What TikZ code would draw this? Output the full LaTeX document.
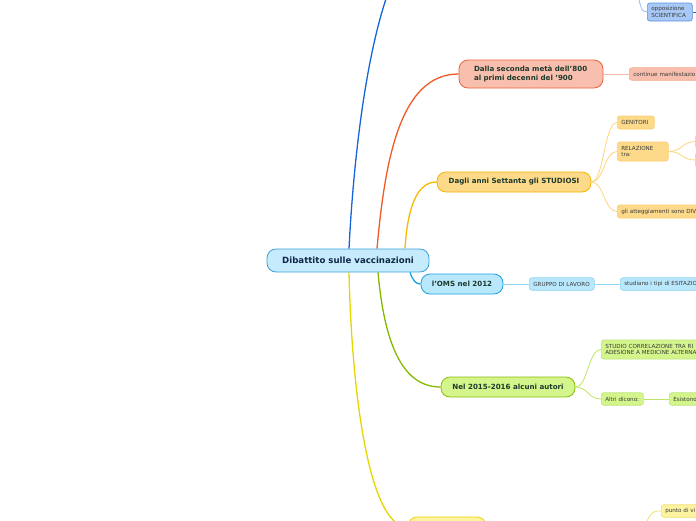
\documentclass[tikz,border=0pt]{standalone}
\usepackage{fontspec}
\setmainfont{DejaVu Sans}
\definecolor{rootf}{HTML}{C6EBFC}
\definecolor{rootb}{HTML}{3AA0D8}
\definecolor{roott}{HTML}{102848}
\definecolor{topt}{HTML}{1E3A2C}
\definecolor{subt}{HTML}{3A3A3A}
\definecolor{blueL}{HTML}{1565D8}
\definecolor{blueF}{HTML}{A8C8F5}
\definecolor{blueB}{HTML}{5A90E0}
\definecolor{oraL}{HTML}{F05A28}
\definecolor{oraF}{HTML}{F9BFAE}
\definecolor{oraB}{HTML}{E8643C}
\definecolor{oraS}{HTML}{F7A890}
\definecolor{goldL}{HTML}{F8B800}
\definecolor{goldF}{HTML}{FDD98A}
\definecolor{goldB}{HTML}{F5B400}
\definecolor{goldS}{HTML}{FCD070}
\definecolor{cyanL}{HTML}{19A3DF}
\definecolor{cyanF}{HTML}{B9E7FB}
\definecolor{cyanS}{HTML}{8FD5F5}
\definecolor{grnL}{HTML}{86B800}
\definecolor{grnF}{HTML}{D3F58B}
\definecolor{grnB}{HTML}{8CBC0A}
\definecolor{grnS}{HTML}{BEE47A}
\definecolor{yelL}{HTML}{E6D600}
\definecolor{yelF}{HTML}{FDF3A0}
\definecolor{yelS}{HTML}{F0E070}
\tikzset{
  rootbox/.style={draw=rootb, fill=rootf, line width=0.8, rounded corners=9,
    minimum width=162, minimum height=23, inner sep=0,
    font=\bfseries\fontsize{8.6}{10}\selectfont, text=roott},
  topicbox/.style={rounded corners=9, line width=0.8, minimum height=20, inner sep=0,
    font=\bfseries\fontsize{7.1}{8.4}\selectfont, text=topt},
  subbox/.style={rounded corners=2.5, line width=0.6, minimum height=12.5,
    inner xsep=4, inner ysep=0, anchor=west, align=left,
    font=\fontsize{5.6}{6.8}\selectfont, text=subt},
  branch/.style={line width=1.3},
  twig/.style={line width=0.8},
}
\begin{document}
\begin{tikzpicture}[x=1pt,y=-1pt]
\useasboundingbox (0,0) rectangle (696,520);
\clip (0,0) rectangle (696,520);

% root
\node[rootbox] (root) at (348,260.5) {Dibattito sulle vaccinazioni};

% level 1 topics
\coordinate (bluetop) at (393,-20);
\node[topicbox, draw=oraB, fill=oraF, minimum width=144, minimum height=28,
  text width=114, align=left, inner xsep=15] (ora) at (531,74)
  {Dalla seconda metà dell'800\\al primi decenni del '900};
\node[topicbox, draw=goldB, fill=goldF, minimum width=154] (gold) at (514,182)
  {Dagli anni Settanta gli STUDIOSI};
\node[topicbox, draw=cyanL, fill=cyanF, minimum width=82] (oms) at (462,284)
  {l'OMS nel 2012};
\node[topicbox, draw=grnB, fill=grnF, minimum width=134] (grn) at (508,387)
  {Nel 2015-2016 alcuni autori};
\node[topicbox, draw=yelL, fill=yelF, minimum width=78] (yel) at (447,527) {};

% main branches
\draw[branch, blueL] ([xshift=1pt]root.north) .. controls (354,150) and (368,40) .. (bluetop);
\draw[branch, oraL] ([xshift=29pt]root.north) .. controls (385,160) and (400,74) .. (ora.west);
\draw[branch, goldL] ([xshift=57pt]root.north) .. controls (408,200) and (420,182) .. (gold.west);
\draw[branch, cyanL] ([xshift=62pt]root.south) .. controls (413,281) and (416,284) .. (oms.west);
\draw[branch, grnL] ([xshift=30pt]root.south) .. controls (385,350) and (405,387) .. (grn.west);
\draw[branch, yelL] ([xshift=1pt]root.south) .. controls (352,400) and (370,527) .. (yel.west);

% blue sub
\node[subbox, draw=blueB, fill=blueF, text width=37, minimum height=18] (opp) at (647,12)
  {opposizione\\SCIENTIFICA};
\coordinate (oppin) at (636,-20);
\coordinate (oppout) at (700,12);
\draw[twig, blueF!80!blueB] (oppin) .. controls (640,8) and (641,12) .. (opp.west);
\draw[twig, blueL] (opp.east) -- (oppout);

% orange sub
\node[subbox, draw=oraS, fill=oraF, text width=100] (cont) at (629,74) {continue manifestazio};
\draw[twig, oraS!80] (ora.east) -- (cont.west);

% gold subs
\node[subbox, draw=goldS, fill=goldF, text width=29, minimum height=13] (gen) at (617,122.5) {GENITORI};
\node[subbox, draw=goldS, fill=goldF, text width=43, minimum height=19] (rel) at (617,151.5) {RELAZIONE\\tra:};
\node[subbox, draw=goldS, fill=goldF, text width=100, minimum height=13] (att) at (617,211.5) {gli atteggiamenti sono DIV};
\node[subbox, draw=goldS, fill=goldF, text width=32, minimum height=13] (rel1) at (695,141.5) {};
\node[subbox, draw=goldS, fill=goldF, text width=32, minimum height=14] (rel2) at (695,160) {};
\draw[twig, goldF!90!goldB] (gold.east) .. controls (604,182) and (604,122.5) .. (gen.west);
\draw[twig, goldF!90!goldB] (gold.east) .. controls (604,182) and (604,151.5) .. (rel.west);
\draw[twig, goldF!90!goldB] (gold.east) .. controls (604,182) and (604,211.5) .. (att.west);
\draw[twig, goldF!90!goldB] (rel.east) .. controls (682,151.5) and (682,141.5) .. (rel1.west);
\draw[twig, goldF!90!goldB] (rel.east) .. controls (682,151.5) and (682,160) .. (rel2.west);

% cyan subs
\node[subbox, draw=cyanS, fill=cyanF, text width=57] (grp) at (529,284) {GRUPPO DI LAVORO};
\node[subbox, draw=cyanS, fill=cyanF, text width=100] (stud) at (620,284) {studiano i tipi di ESITAZIO};
\draw[twig, cyanS] (oms.east) -- (grp.west);
\draw[twig, cyanS] (grp.east) -- (stud.west);

% green subs
\node[subbox, draw=grnS, fill=grnF, text width=130, minimum height=19] (corr) at (601,349.5)
  {STUDIO CORRELAZIONE TRA RI\\ADESIONE A MEDICINE ALTERNA};
\node[subbox, draw=grnS, fill=grnF, text width=34] (altri) at (601,399) {Altri dicono:};
\node[subbox, draw=grnS, fill=grnF, text width=60] (esi) at (669,399) {Esistono};
\draw[twig, grnF!70!grnB] (grn.east) .. controls (588,387) and (588,349.5) .. (corr.west);
\draw[twig, grnF!70!grnB] (grn.east) .. controls (588,387) and (588,399) .. (altri.west);
\draw[twig, grnF!70!grnB] (altri.east) -- (esi.west);

% yellow sub
\node[subbox, draw=yelS, fill=yelF, text width=60] (punto) at (661,511) {punto di vi};
\coordinate (puntoin) at (640,545);
\draw[twig, yelS] (puntoin) .. controls (648,511) and (652,511) .. (punto.west);
\end{tikzpicture}
\end{document}
